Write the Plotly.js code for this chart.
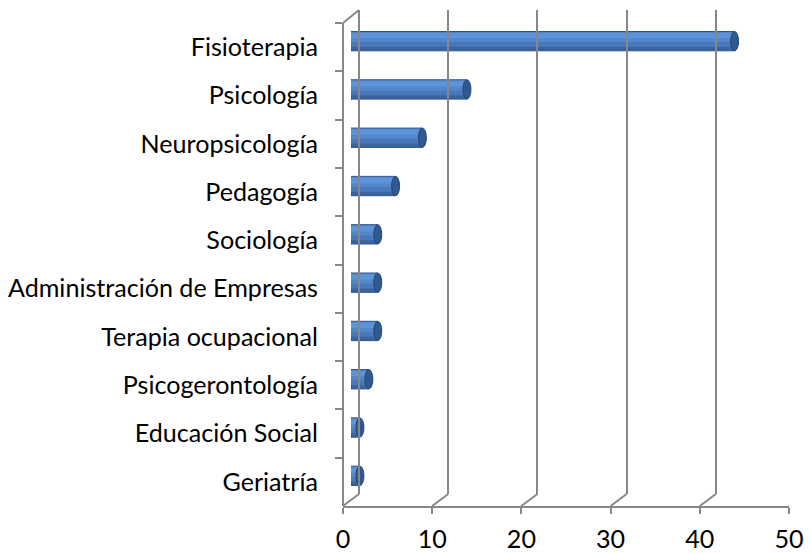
<!DOCTYPE html>
<html>
<head>
<meta charset="utf-8">
<script src="https://cdn.plot.ly/plotly-3.0.1.min.js"></script>
<style>html,body{margin:0;padding:0;background:#fff;}#chart{width:811px;height:554px;}</style>
</head>
<body>
<div id="chart"></div>
<script>
// ---- data ----
const categories = ['Fisioterapia', 'Psicología', 'Neuropsicología', 'Pedagogía', 'Sociología',
  'Administración de Empresas', 'Terapia ocupacional', 'Psicogerontología', 'Educación Social', 'Geriatría'];
const values = [43, 13, 8, 5, 3, 3, 3, 2, 1, 1];
const xTickVals = [0, 10, 20, 30, 40, 50];
const xTickText = ['0', '10', '20', '30', '40', '50'];

// ---- geometry (pixels) ----
const M = {l: 343, r: 6, t: 10, b: 48};
const W = 811 - M.l - M.r, H = 554 - M.t - M.b;
const DX = 16, DY = 12;               // depth offset of the back wall
const GRID = '#878787';
const FONT = {family: 'Lato, "Liberation Sans", sans-serif', size: 25.1, color: '#000'};
const catRange = [categories.length - 0.5, -0.5];
const frontTop = (H - DY - 1) / H;

// cylinder shading layers: [offset, width, colour] (negative offset = upward)
const bandOffsets = [-0.20, -0.19, -0.185, -0.17];
const bandWidths = [0.40, 0.31, 0.205, 0.11];
const bandColors = ['#3A64A0', '#4878BA', '#5387CB', '#5D93D8'];

const traces = [];
// front (category) subplot: invisible carrier so category ticks exist
traces.push({type: 'scatter', mode: 'markers', x: values, y: categories, xaxis: 'x', yaxis: 'y',
  marker: {opacity: 0}, hoverinfo: 'skip', showlegend: false});
// cylinder body layers (subplot x2y2 at mid depth)
bandColors.forEach((c, k) => {
  traces.push({type: 'bar', orientation: 'h', x: values, y: categories, xaxis: 'x2', yaxis: 'y2',
    width: bandWidths[k], offset: bandOffsets[k],
    marker: {color: c, line: k === 0 ? {color: '#2E5288', width: 1} : {width: 0}},
    hoverinfo: 'skip', showlegend: false});
});
// back wall subplot carrier
traces.push({type: 'scatter', mode: 'markers', x: [], y: [], xaxis: 'x3', yaxis: 'y3',
  hoverinfo: 'skip', showlegend: false});

const shapes = [];
// cylinder caps
values.forEach((v, i) => {
  shapes.push({type: 'circle', layer: 'below', xref: 'x2', yref: 'y2',
    xsizemode: 'pixel', ysizemode: 'pixel', xanchor: 0, yanchor: i,
    x0: -4, x1: 4, y0: -9.6, y1: 9.6,
    fillcolor: '#4D80C3', line: {color: '#2E5288', width: 1}});
  shapes.push({type: 'circle', layer: 'above', xref: 'x2', yref: 'y2',
    xsizemode: 'pixel', ysizemode: 'pixel', xanchor: v, yanchor: i,
    x0: -4, x1: 4, y0: -9.6, y1: 9.6,
    fillcolor: '#30598D', line: {color: '#264672', width: 1}});
});
// floor diagonals from each front tick to the back wall
xTickVals.forEach(v => {
  shapes.push({type: 'line', xref: 'x', yref: 'paper', xsizemode: 'pixel', ysizemode: 'pixel',
    xanchor: v, yanchor: 0, x0: 0, x1: DX, y0: 0, y1: DY, line: {color: GRID, width: 2}});
});
// side wall: front-left edge, top diagonal, back-left edge
shapes.push({type: 'line', xref: 'paper', yref: 'paper', x0: 0, x1: 0, y0: 0, y1: frontTop,
  line: {color: GRID, width: 2}});
shapes.push({type: 'line', xref: 'paper', yref: 'paper', xsizemode: 'pixel', ysizemode: 'pixel',
  xanchor: 0, yanchor: frontTop, x0: 0, x1: DX, y0: 0, y1: DY + 1, line: {color: GRID, width: 2}});
shapes.push({type: 'line', xref: 'paper', yref: 'paper', x0: DX / W, x1: DX / W, y0: DY / H, y1: 1,
  line: {color: GRID, width: 2}});

const layout = {
  width: 811, height: 554,
  margin: M,
  paper_bgcolor: '#ffffff', plot_bgcolor: 'rgba(0,0,0,0)',
  font: FONT,
  showlegend: false,
  barmode: 'overlay',
  xaxis: {domain: [0, (W - DX) / W], range: [0, 50], anchor: 'y',
    tickvals: xTickVals, ticktext: xTickText, showgrid: false, zeroline: false,
    showline: true, linecolor: GRID, linewidth: 2, ticklabelstandoff: 4,
    ticks: 'outside', ticklen: 6, tickwidth: 2, tickcolor: GRID, tickfont: FONT},
  yaxis: {domain: [0, frontTop], type: 'category', categoryorder: 'array', categoryarray: categories,
    range: catRange, anchor: 'x', tickson: 'boundaries', showgrid: false, zeroline: false,
    showline: false, ticklabelstandoff: 24,
    ticks: 'outside', ticklen: 7, tickwidth: 2, tickcolor: GRID, tickfont: FONT},
  xaxis2: {domain: [DX / 2 / W, (W - DX / 2) / W], range: [0, 50], anchor: 'y2', visible: false},
  yaxis2: {domain: [DY / 2 / H, (H - DY / 2 - 1) / H], type: 'category', categoryorder: 'array', categoryarray: categories,
    range: catRange, anchor: 'x2', visible: false},
  xaxis3: {domain: [DX / W, 1], range: [0, 50], anchor: 'y3', tickvals: xTickVals,
    showgrid: true, gridcolor: GRID, gridwidth: 2, showticklabels: false, ticks: '',
    zeroline: false, showline: false},
  yaxis3: {domain: [DY / H, 1], range: [0, 1], anchor: 'x3', visible: false},
  shapes: shapes
};

Plotly.newPlot('chart', traces, layout, {displayModeBar: false, staticPlot: true});
</script>
</body>
</html>
